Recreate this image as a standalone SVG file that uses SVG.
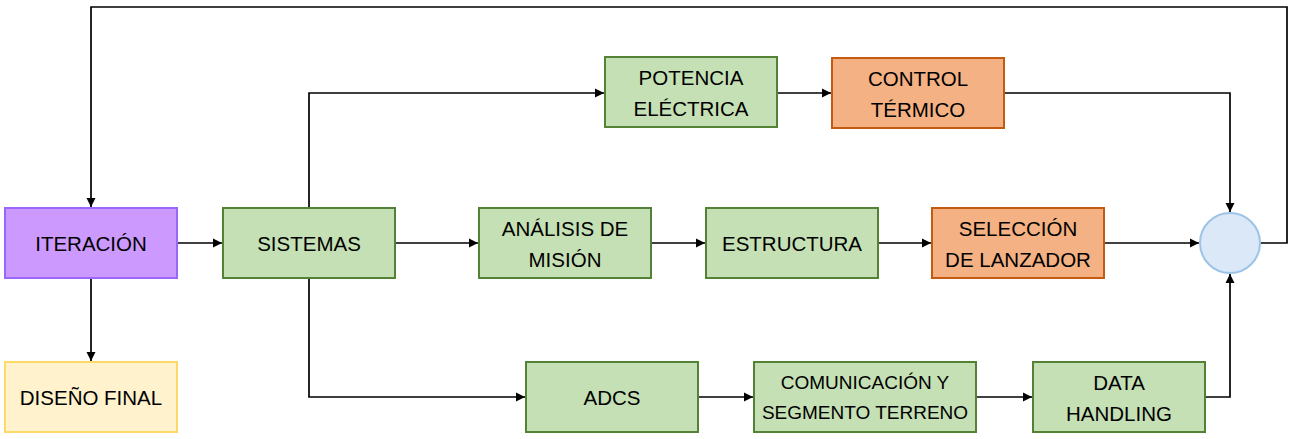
<svg xmlns="http://www.w3.org/2000/svg" width="1293" height="439" viewBox="0 0 1293 439">
<style>
text{font-family:"Liberation Sans",Arial,sans-serif;font-size:20.5px;fill:#000;text-anchor:middle;dominant-baseline:central}
.g{fill:#C5E0B4;stroke:#538135;stroke-width:2}
.o{fill:#F4B183;stroke:#C55A11;stroke-width:2}
.p{fill:#CC99FF;stroke:#9966FF;stroke-width:2}
.y{fill:#FFF2CC;stroke:#FFD966;stroke-width:2}
.c{fill:#DAE8F7;stroke:#9DC3E6;stroke-width:2}
.e{fill:none;stroke:#000;stroke-width:1.7;marker-end:url(#a)}
.sm{font-size:19px}
</style>
<defs>
<marker id="a" viewBox="0 0 10 10" refX="10" refY="5" markerWidth="5.5" markerHeight="5.5" markerUnits="strokeWidth" orient="auto">
<path d="M0,0 L10,5 L0,10 z" fill="#000"/>
</marker>
</defs>
<g id="connectors">
<path class="e" d="M1260,243 H1287 V7 H91 V207"/>
<path class="e" d="M177,243 H222"/>
<path class="e" d="M91,278 V361"/>
<path class="e" d="M309,208 V93 H604"/>
<path class="e" d="M309,278 V397 H525"/>
<path class="e" d="M395,243 H478"/>
<path class="e" d="M651,243 H705"/>
<path class="e" d="M878,243 H931"/>
<path class="e" d="M1104,243 H1199"/>
<path class="e" d="M777,93 H831"/>
<path class="e" d="M1004,93 H1230 V212"/>
<path class="e" d="M698,397 H753"/>
<path class="e" d="M976,397 H1032"/>
<path class="e" d="M1205,397 H1230 V274"/>
</g>
<g id="iteracion"><rect class="p" x="5" y="208" width="172" height="70"/><text x="91" y="243">ITERACIÓN</text></g>
<g id="diseno-final"><rect class="y" x="5" y="362" width="172" height="70"/><text x="91" y="397">DISEÑO FINAL</text></g>
<g id="sistemas"><rect class="g" x="223" y="208" width="172" height="70"/><text x="309" y="243">SISTEMAS</text></g>
<g id="potencia"><rect class="g" x="605" y="57" width="172" height="70"/><text x="691" y="77">POTENCIA</text><text x="691" y="108">ELÉCTRICA</text></g>
<g id="control-termico"><rect class="o" x="832" y="58" width="172" height="70"/><text x="918" y="78">CONTROL</text><text x="918" y="109">TÉRMICO</text></g>
<g id="analisis"><rect class="g" x="479" y="208" width="172" height="70"/><text x="565" y="228">ANÁLISIS DE</text><text x="565" y="259">MISIÓN</text></g>
<g id="estructura"><rect class="g" x="706" y="208" width="172" height="70"/><text x="792" y="243">ESTRUCTURA</text></g>
<g id="seleccion"><rect class="o" x="932" y="208" width="172" height="70"/><text x="1018" y="228">SELECCIÓN</text><text x="1018" y="259">DE LANZADOR</text></g>
<g id="suma"><circle class="c" cx="1230" cy="243" r="30"/></g>
<g id="adcs"><rect class="g" x="526" y="362" width="172" height="70"/><text x="612" y="397">ADCS</text></g>
<g id="comunicacion"><rect class="g" x="754" y="362" width="222" height="70"/><text class="sm" x="865" y="382">COMUNICACIÓN Y</text><text class="sm" x="865" y="412">SEGMENTO TERRENO</text></g>
<g id="data-handling"><rect class="g" x="1033" y="362" width="172" height="70"/><text x="1119" y="382">DATA</text><text x="1119" y="413">HANDLING</text></g>
</svg>
